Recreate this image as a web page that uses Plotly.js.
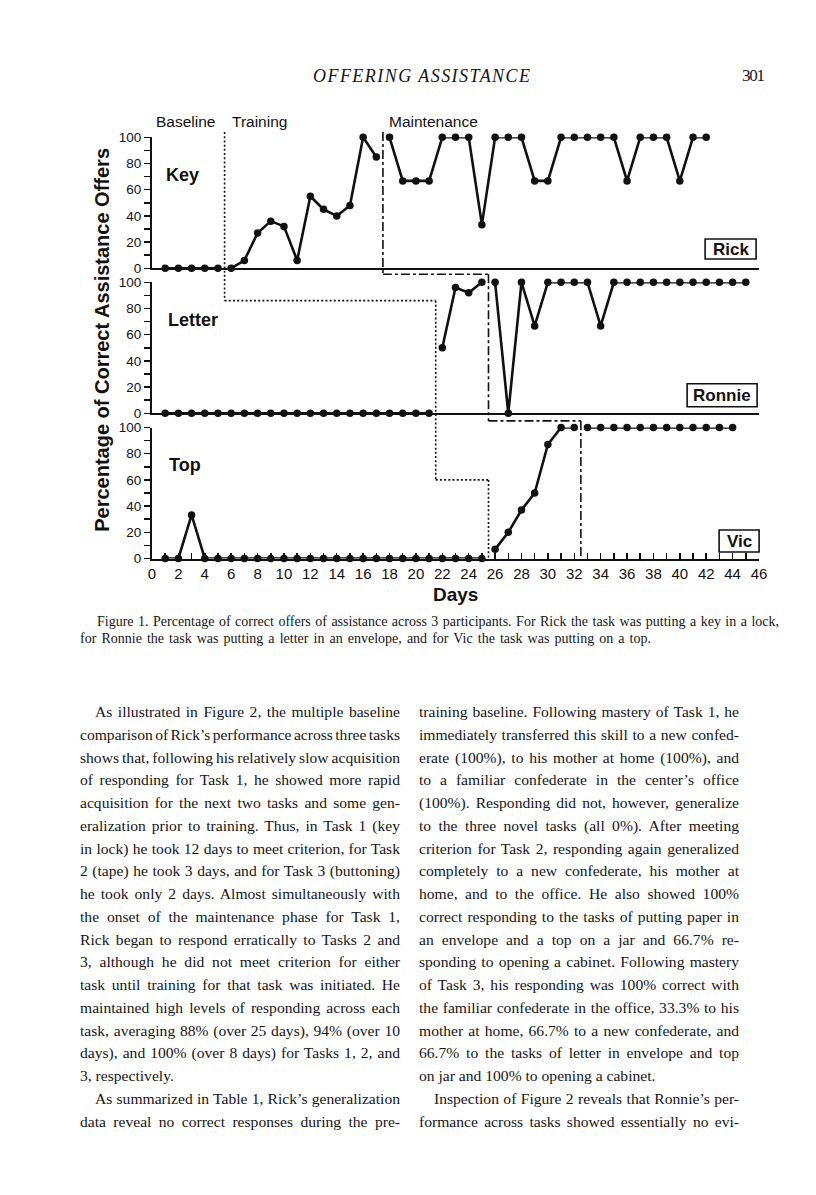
<!DOCTYPE html>
<html><head><meta charset="utf-8">
<script src="https://cdn.plot.ly/plotly-3.0.1.min.js"></script>
<style>
html,body{margin:0;padding:0;background:#fff;}
#page{position:relative;width:816px;height:1195px;overflow:hidden;background:#fff;}
#chart{position:absolute;left:0;top:0;width:816px;height:1195px;}
.ln{position:absolute;font-family:"Liberation Serif","Times New Roman",serif;color:#151515;white-space:nowrap;line-height:20px;}
</style></head>
<body><div id="page"><div id="chart"></div></div>
<script>
// ---------------- data ----------------
const keyBaseDays = [1, 2, 3, 4, 5];
const keyBaseVals = [0, 0, 0, 0, 0];
const keyTrainDays = [6, 7, 8, 9, 10, 11, 12, 13, 14, 15, 16, 17];
const keyTrainVals = [0, 6, 27, 36, 32, 6, 55, 45, 40, 48, 100, 85];
const keyMaintDays = [18, 19, 20, 21, 22, 23, 24, 25, 26, 27, 28, 29, 30, 31, 32, 33, 34, 35, 36, 37, 38, 39, 40, 41, 42];
const keyMaintVals = [100, 66.7, 66.7, 66.7, 100, 100, 100, 33.3, 100, 100, 100, 66.7, 66.7, 100, 100, 100, 100, 100, 66.7, 100, 100, 100, 66.7, 100, 100];

const letterBaseDays = [1, 2, 3, 4, 5, 6, 7, 8, 9, 10, 11, 12, 13, 14, 15, 16, 17, 18, 19, 20, 21];
const letterBaseVals = [0, 0, 0, 0, 0, 0, 0, 0, 0, 0, 0, 0, 0, 0, 0, 0, 0, 0, 0, 0, 0];
const letterTrainDays = [22, 23, 24, 25];
const letterTrainVals = [50, 96, 92, 100];
const letterMaintDays = [26, 27, 28, 29, 30, 31, 32, 33, 34, 35, 36, 37, 38, 39, 40, 41, 42, 43, 44, 45];
const letterMaintVals = [100, 0, 100, 66.7, 100, 100, 100, 100, 66.7, 100, 100, 100, 100, 100, 100, 100, 100, 100, 100, 100];

const topBaseDays = [1, 2, 3, 4, 5, 6, 7, 8, 9, 10, 11, 12, 13, 14, 15, 16, 17, 18, 19, 20, 21, 22, 23, 24, 25];
const topBaseVals = [0, 0, 33.3, 0, 0, 0, 0, 0, 0, 0, 0, 0, 0, 0, 0, 0, 0, 0, 0, 0, 0, 0, 0, 0, 0];
const topTrainDays = [26, 27, 28, 29, 30, 31, 32];
const topTrainVals = [7, 20, 37, 50, 87, 100, 100];
const topMaintDays = [33, 34, 35, 36, 37, 38, 39, 40, 41, 42, 43, 44];
const topMaintVals = [100, 100, 100, 100, 100, 100, 100, 100, 100, 100, 100, 100];

const taskNames = ["Key", "Letter", "Top"];
const participants = ["Rick", "Ronnie", "Vic"];
const phaseNames = ["Baseline", "Training", "Maintenance"];
const trainStart = [5.5, 21.5, 25.5];   // day where training begins (per panel)
const maintStart = [17.5, 25.5, 32.5];  // day where maintenance begins (per panel)
const yTickVals = [0, 20, 40, 60, 80, 100];
const xTickVals = [0, 2, 4, 6, 8, 10, 12, 14, 16, 18, 20, 22, 24, 26, 28, 30, 32, 34, 36, 38, 40, 42, 44, 46];

// ---------------- layout geometry ----------------
const W = 816, H = 1195;
const L = 151.7, R = 758.9;
const panelPx = [[137.3, 268.3], [282.3, 413.3], [427.5, 558.5]];
const dom = panelPx.map(p => [1 - p[1] / H, 1 - p[0] / H]);
const px = x => (x - L) / (R - L);
const py = y => 1 - y / H;
const yp = (i, v) => dom[i][0] + v / 100 * (dom[i][1] - dom[i][0]);

const ink = '#111';
function series(xs, ys, xa, ya) {
  return {x: xs, y: ys, xaxis: xa, yaxis: ya, type: 'scatter', mode: 'lines+markers',
    cliponaxis: false, hoverinfo: 'skip',
    line: {color: ink, width: 2.6}, marker: {color: ink, size: 7.5, symbol: 'circle'}};
}
const traces = [
  series(keyBaseDays, keyBaseVals, 'x2', 'y'),
  series(keyTrainDays, keyTrainVals, 'x2', 'y'),
  series(keyMaintDays, keyMaintVals, 'x2', 'y'),
  series(letterBaseDays, letterBaseVals, 'x3', 'y2'),
  series(letterTrainDays, letterTrainVals, 'x3', 'y2'),
  series(letterMaintDays, letterMaintVals, 'x3', 'y2'),
  series(topBaseDays, topBaseVals, 'x', 'y3'),
  series(topTrainDays, topTrainVals, 'x', 'y3'),
  series(topMaintDays, topMaintVals, 'x', 'y3')
];

const tickFont = {family: 'Liberation Sans, Arial, sans-serif', size: 13.5, color: ink};
const xTickFont = {family: 'Liberation Sans, Arial, sans-serif', size: 15, color: ink};
function yAxis(i) {
  return {domain: dom[i], range: [0, 100], anchor: i === 0 ? 'x2' : (i === 1 ? 'x3' : 'x'),
    showline: true, linewidth: 2, linecolor: ink, ticks: 'outside', ticklen: 6, tickwidth: 1.5, tickcolor: ink,
    tickmode: 'array', tickvals: yTickVals,
    minor: {dtick: 10, tick0: 0, ticks: 'outside', ticklen: 6, tickwidth: 1.5, tickcolor: ink},
    showgrid: false, zeroline: false, tickfont: tickFont, fixedrange: true};
}
function xUpper(anchor) {
  return {range: [0, 46], matches: 'x', anchor: anchor, showline: true, linewidth: 2, linecolor: ink,
    ticks: '', showticklabels: false, showgrid: false, zeroline: false, fixedrange: true};
}

// phase-change lines
const shapes = [];
function seg(x0, y0, x1, y1, dash) {
  shapes.push({type: 'line', xref: 'x', yref: 'paper', x0: x0, x1: x1, y0: y0, y1: y1,
    line: {color: ink, width: 1.6, dash: dash}});
}
const dotD = '2px,2.2px', ddD = '9px,3px,3px,3px';
// Baseline -> Training
seg(trainStart[0], yp(0, 104), trainStart[0], yp(1, 86), dotD);
seg(trainStart[0], yp(1, 86), trainStart[1], yp(1, 86), dotD);
seg(trainStart[1], yp(1, 86), trainStart[1], yp(2, 60), dotD);
seg(trainStart[1], yp(2, 60), trainStart[2], yp(2, 60), dotD);
seg(trainStart[2], yp(2, 60), trainStart[2], yp(2, 0), dotD);
// Training -> Maintenance
seg(maintStart[0], yp(0, 104), maintStart[0], yp(0, -4.5), ddD);
seg(maintStart[0], yp(0, -4.5), maintStart[1], yp(0, -4.5), ddD);
seg(maintStart[1], yp(0, -4.5), maintStart[1], yp(1, -5.8), ddD);
seg(maintStart[1], yp(1, -5.8), maintStart[2], yp(1, -5.8), ddD);
seg(maintStart[2], yp(1, -5.8), maintStart[2], yp(2, 0), ddD);

const sans = 'Liberation Sans, Arial, sans-serif';
const ann = [];
function label(text, xpix, ypix, size, bold, xanchor) {
  ann.push({text: bold ? '<b>' + text + '</b>' : text, xref: 'paper', yref: 'paper', x: px(xpix), y: py(ypix),
    xanchor: xanchor || 'center', yanchor: 'middle', showarrow: false,
    font: {family: sans, size: size, color: ink}});
}
label(phaseNames[0], 185, 121.5, 15.5, false);
label(phaseNames[1], 259, 121.5, 15.5, false);
label(phaseNames[2], 433.5, 121.5, 15.5, false);
label(taskNames[0], 164, 175, 18, true, 'left');
label(taskNames[1], 165.5, 319.5, 18, true, 'left');
label(taskNames[2], 167, 465, 18, true, 'left');
const boxC = [[730.5, 249, 51, 20], [722, 395.3, 70, 23], [739, 541, 40, 22]];
participants.forEach((p, i) => {
  const b = boxC[i];
  shapes.push({type: 'rect', xref: 'paper', yref: 'paper', x0: px(b[0] - b[2] / 2), x1: px(b[0] + b[2] / 2),
    y0: py(b[1] + b[3] / 2), y1: py(b[1] - b[3] / 2), line: {color: ink, width: 1.6}, fillcolor: '#fff', layer: 'above'});
  label(p, b[0], b[1] + 0.5, 17, true);
});
ann.push({text: '<b>Percentage of Correct Assistance Offers</b>', xref: 'paper', yref: 'paper',
  x: px(101.5), y: py(340), textangle: -90, showarrow: false, xanchor: 'center', yanchor: 'middle',
  font: {family: sans, size: 20, color: ink}});
label('Days', 455, 594, 19, true);

const layout = {
  width: W, height: H, margin: {l: L, r: W - R, t: 0, b: 0, autoexpand: false},
  paper_bgcolor: 'rgba(0,0,0,0)', plot_bgcolor: 'rgba(0,0,0,0)', showlegend: false,
  xaxis: {range: [0, 46], anchor: 'y3', showline: true, linewidth: 2, linecolor: ink,
    ticks: 'inside', ticklen: 6, tickwidth: 1.5, tickcolor: ink, tickmode: 'array', tickvals: xTickVals,
    minor: {dtick: 1, tick0: 0, ticks: 'inside', ticklen: 6, tickwidth: 1.5, tickcolor: ink},
    showgrid: false, zeroline: false, tickfont: xTickFont, fixedrange: true},
  xaxis2: xUpper('y'), xaxis3: xUpper('y2'),
  yaxis: yAxis(0), yaxis2: yAxis(1), yaxis3: yAxis(2),
  shapes: shapes, annotations: ann
};
Plotly.newPlot('chart', traces, layout, {staticPlot: true, displayModeBar: false});

// ---------------- page text ----------------
const page = document.getElementById('page');
function addLine(text, x, cy, size, opts) {
  opts = opts || {};
  const d = document.createElement('div');
  d.className = 'ln';
  d.textContent = text;
  d.style.left = x + 'px';
  d.style.top = (cy - 10) + 'px';
  d.style.fontSize = size + 'px';
  if (opts.italic) d.style.fontStyle = 'italic';
  page.appendChild(d);
  const w = d.getBoundingClientRect().width;
  if (opts.width) {
    const spaces = (text.match(/ /g) || []).length;
    if (opts.letter) {
      d.style.letterSpacing = ((opts.width - w) / Math.max(1, text.length - 1)) + 'px';
    } else if (spaces > 0) {
      d.style.wordSpacing = ((opts.width - w) / spaces) + 'px';
    }
  }
  return d;
}
addLine('OFFERING ASSISTANCE', 313, 76, 18, {italic: true, width: 217, letter: true});
addLine('301', 742, 76, 17, {width: 23, letter: true});
addLine('Figure 1.   Percentage of correct offers of assistance across 3 participants. For Rick the task was putting a key in a lock,', 97, 621.5, 14, {width: 684});
addLine('for Ronnie the task was putting a letter in an envelope, and for Vic the task was putting on a top.', 80, 638.5, 14, {width: 571});

const leftCol = [
  ['As illustrated in Figure 2, the multiple baseline', 1, 1],
  ["comparison of Rick\u2019s performance across three tasks", 0, 1],
  ['shows that, following his relatively slow acquisition', 0, 1],
  ['of responding for Task 1, he showed more rapid', 0, 1],
  ['acquisition for the next two tasks and some gen-', 0, 1],
  ['eralization prior to training. Thus, in Task 1 (key', 0, 1],
  ['in lock) he took 12 days to meet criterion, for Task', 0, 1],
  ['2 (tape) he took 3 days, and for Task 3 (buttoning)', 0, 1],
  ['he took only 2 days. Almost simultaneously with', 0, 1],
  ['the onset of the maintenance phase for Task 1,', 0, 1],
  ['Rick began to respond erratically to Tasks 2 and', 0, 1],
  ['3, although he did not meet criterion for either', 0, 1],
  ['task until training for that task was initiated. He', 0, 1],
  ['maintained high levels of responding across each', 0, 1],
  ['task, averaging 88% (over 25 days), 94% (over 10', 0, 1],
  ['days), and 100% (over 8 days) for Tasks 1, 2, and', 0, 1],
  ['3, respectively.', 0, 0],
  ["As summarized in Table 1, Rick\u2019s generalization", 1, 1],
  ['data reveal no correct responses during the pre-', 0, 1]
];
const rightCol = [
  ['training baseline. Following mastery of Task 1, he', 0, 1],
  ['immediately transferred this skill to a new confed-', 0, 1],
  ['erate (100%), to his mother at home (100%), and', 0, 1],
  ["to a familiar confederate in the center\u2019s office", 0, 1],
  ['(100%). Responding did not, however, generalize', 0, 1],
  ['to the three novel tasks (all 0%). After meeting', 0, 1],
  ['criterion for Task 2, responding again generalized', 0, 1],
  ['completely to a new confederate, his mother at', 0, 1],
  ['home, and to the office. He also showed 100%', 0, 1],
  ['correct responding to the tasks of putting paper in', 0, 1],
  ['an envelope and a top on a jar and 66.7% re-', 0, 1],
  ['sponding to opening a cabinet. Following mastery', 0, 1],
  ['of Task 3, his responding was 100% correct with', 0, 1],
  ['the familiar confederate in the office, 33.3% to his', 0, 1],
  ['mother at home, 66.7% to a new confederate, and', 0, 1],
  ['66.7% to the tasks of letter in envelope and top', 0, 1],
  ['on jar and 100% to opening a cabinet.', 0, 0],
  ["Inspection of Figure 2 reveals that Ronnie\u2019s per-", 1, 1],
  ['formance across tasks showed essentially no evi-', 0, 1]
];
const colX = [80, 419], colW = 320, indent = 15, line0 = 712, lineStep = 22.75;
[leftCol, rightCol].forEach((col, ci) => {
  col.forEach((ln, i) => {
    const x = colX[ci] + (ln[1] ? indent : 0);
    const w = colW - (ln[1] ? indent : 0);
    addLine(ln[0], x, line0 + i * lineStep, 15.6, ln[2] ? {width: w} : {});
  });
});
</script>
</body></html>
